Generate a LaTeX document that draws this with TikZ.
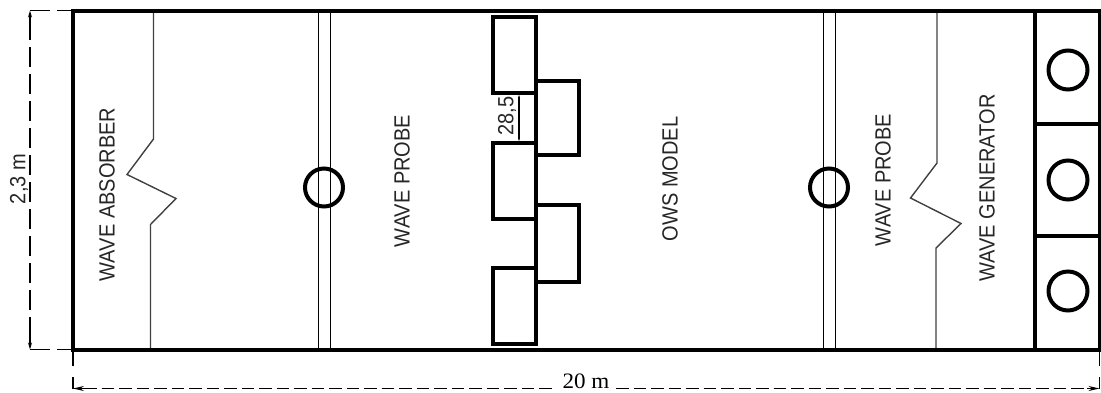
\documentclass[tikz,border=0pt]{standalone}
\usepackage{fontspec}
\setmainfont{Liberation Sans}
\newfontfamily\dimserif{Liberation Serif}
\usetikzlibrary{arrows.meta}
\tikzset{
  heavy/.style={line width=4pt,black,line join=miter},
  thin line/.style={line width=1.4pt,black!75},
  dimline/.style={line width=1.3pt,black,dash pattern=on 20pt off 7pt},
  dimlineh/.style={line width=1.3pt,black,dash pattern=on 12.5pt off 5pt},
  dimend/.style={line width=1.3pt,black,dash pattern=on 15pt off 11pt on 16pt off 0pt},
  label text/.style={font=\fontsize{20}{20}\selectfont,text=black!85,inner sep=0pt,rotate=90,yscale=1.1,anchor=center},
}
\begin{document}
\begin{tikzpicture}[x=1pt,y=-1pt]
\useasboundingbox (0,0) rectangle (1101,392);
% dimension lines
\coordinate (dtop) at (30,10.5);
\coordinate (dbot) at (30,349.5);
\coordinate (dleft) at (73,388.5);
\coordinate (dright) at (1099.5,388.5);
\draw[dimline] (dtop) -- (72,10.5);
\draw[dimline] (dbot) -- (72,349.5);
\draw[dimline] (30,20) -- (30,340);
\draw[line width=1.3pt,-{Stealth[length=7pt,width=4pt]}] (30,24) -- (dtop);
\draw[line width=1.3pt,-{Stealth[length=7pt,width=4pt]}] (30,336) -- (dbot);
\draw[dimend] (73,351) -- (dleft);
\draw[dimend] (1099.5,351) -- (dright);
\draw[dimlineh] (84,388.5) -- (556,388.5);
\draw[dimlineh] (616,388.5) -- (1090,388.5);
\draw[line width=1.3pt,-{Stealth[length=11pt,width=5pt]}] (86,388.5) -- (dleft);
\draw[line width=1.3pt,-{Stealth[length=11pt,width=5pt]}] (1087,388.5) -- (dright);
% probes
\draw[thin line,black] (318.5,10.5) -- (318.5,349.5) (330.5,10.5) -- (330.5,349.5);
\draw[thin line,black] (823.5,10.5) -- (823.5,349.5) (835.5,10.5) -- (835.5,349.5);
% absorber and generator break lines
\draw[thin line] (153.5,10.5) -- (153.5,139) -- (127,174.5) -- (176,198.5) -- (150.5,224.5) -- (150.5,349.5);
\draw[thin line] (937,10.5) -- (937,163) -- (910.5,198) -- (961,223.5) -- (936,248) -- (936,349.5);
% tank
\draw[heavy] (72.5,10.5) rectangle (1099.5,349.5);
\draw[heavy] (1034.5,10.5) -- (1034.5,349.5);
\draw[heavy] (1034.5,123.5) -- (1099.5,123.5);
\draw[heavy] (1034.5,236) -- (1099.5,236);
% circles
\draw[heavy] (324,187.5) circle (19);
\draw[heavy] (829,187.5) circle (19);
\draw[heavy] (1068,70) circle (19.5);
\draw[heavy] (1068,180) circle (19.5);
\draw[heavy] (1068,291) circle (19.5);
% OWS blocks
\draw[heavy] (492.5,16.5) rectangle (536,93);
\draw[heavy] (492.5,142.5) rectangle (536,219);
\draw[heavy] (492.5,267.5) rectangle (536,344);
\draw[heavy] (536,80.5) rectangle (579,155);
\draw[heavy] (536,205) rectangle (579,282);
% small dimension
\draw[line width=1.1pt,{Stealth[length=3pt,width=2pt]}-{Stealth[length=3pt,width=2pt]}] (519,95) -- (519,141);
% labels
\node[label text] (absorber) at (107,194.5) {WAVE ABSORBER};
\node[label text] (probeL) at (402,181) {WAVE PROBE};
\node[label text] (model) at (670,179) {OWS MODEL};
\node[label text] (probeR) at (883,180) {WAVE PROBE};
\node[label text] (generator) at (987,188) {WAVE GENERATOR};
\node[label text] (gap) at (507,116) {28,5};
\node[label text] (height) at (19,179) {2,3 m};
\node[font=\dimserif\fontsize{22}{22}\selectfont,inner sep=0pt,xscale=1.05] (length) at (586,381) {20 m};
\end{tikzpicture}
\end{document}
